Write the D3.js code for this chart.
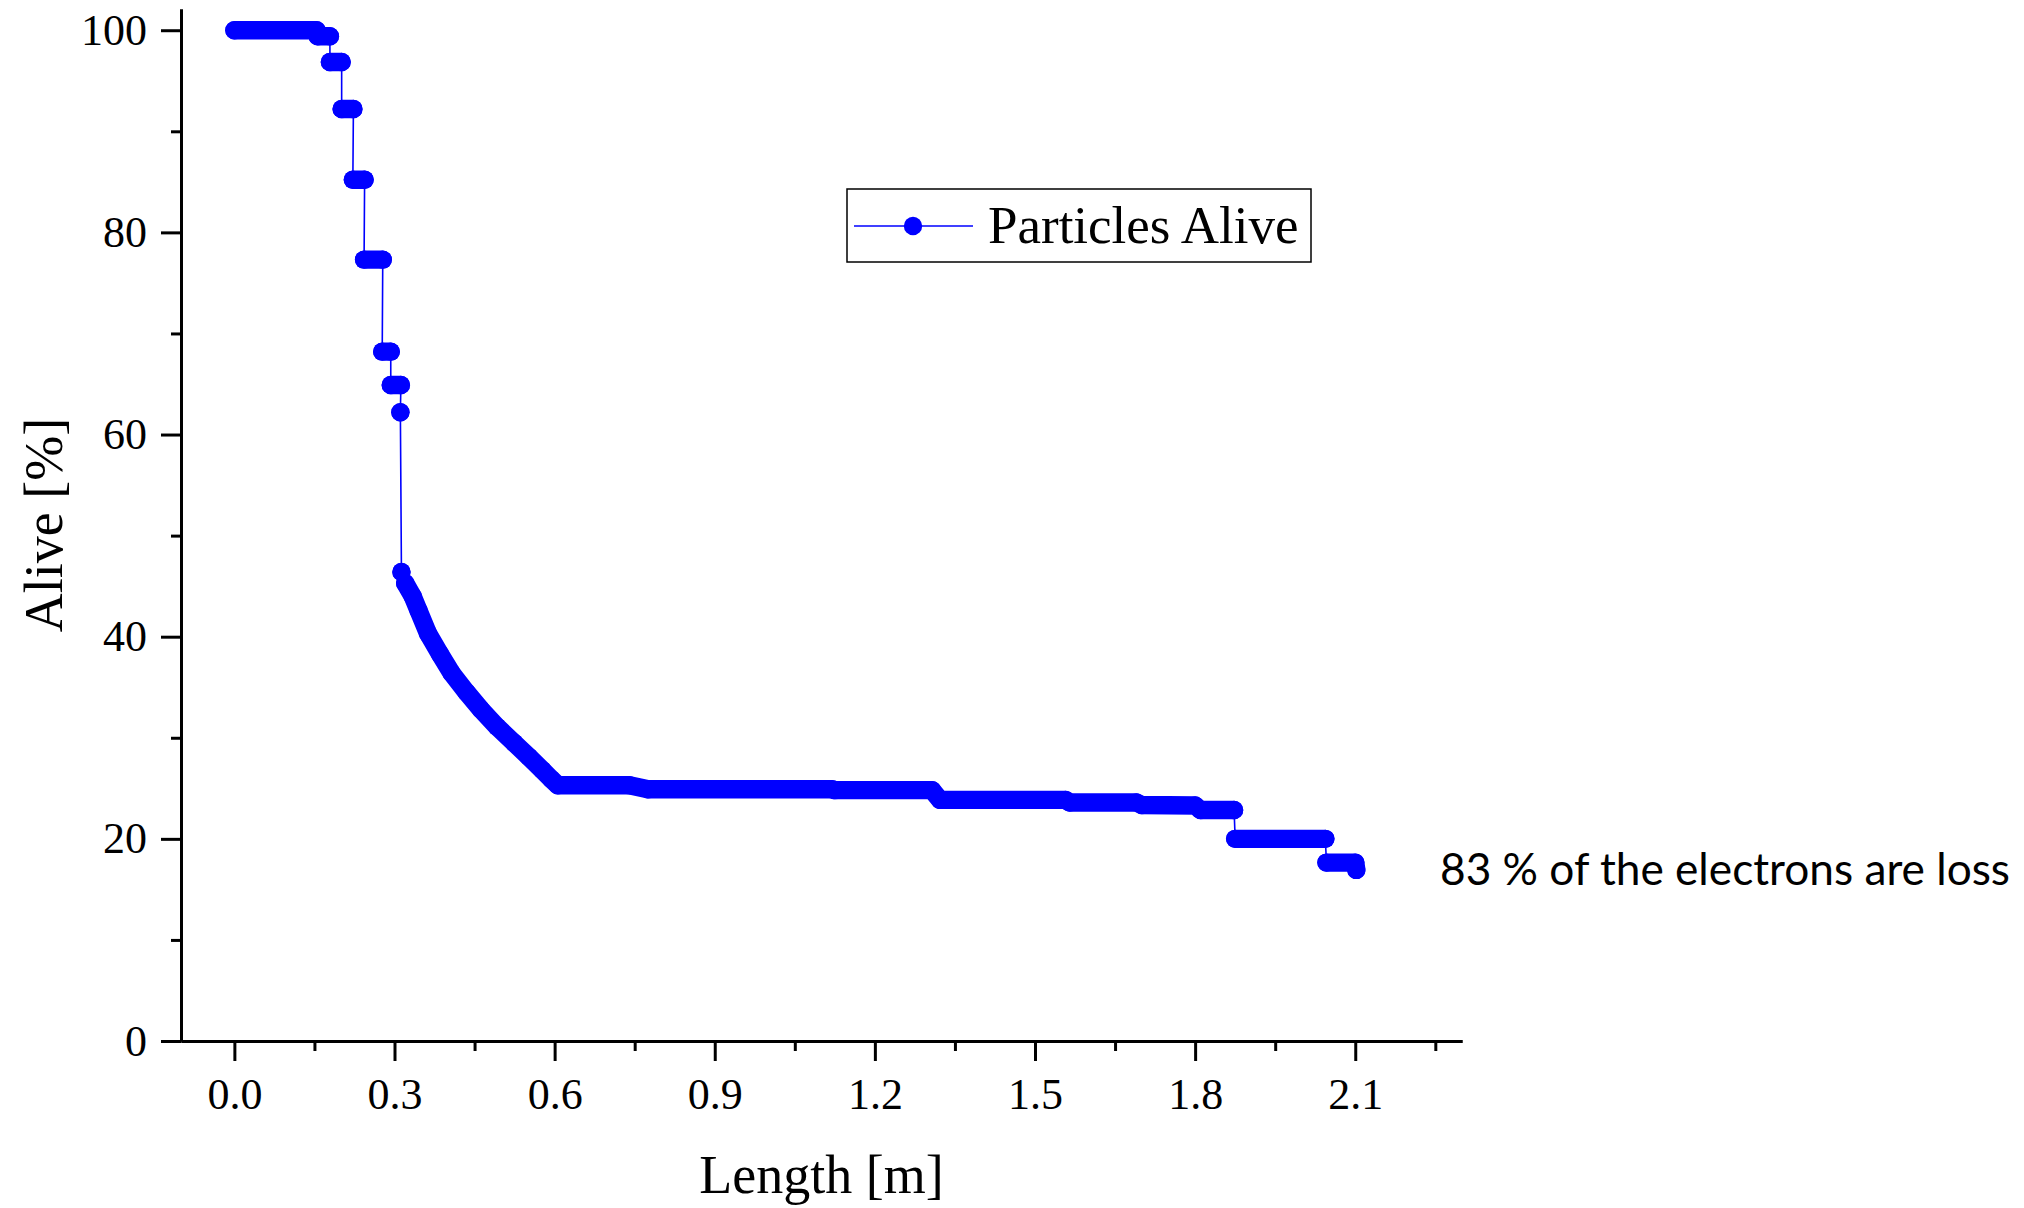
<!DOCTYPE html>
<html>
<head>
<meta charset="utf-8">
<script src="https://cdn.jsdelivr.net/npm/d3@7"></script>
<style>
  body { margin: 0; background: #fff; }
</style>
</head>
<body>
<script>
// chart size and plot box
const SVG_DIM = { W: 2024, H: 1208 };
const PLOT = { LEFT: 181, RIGHT: 1462, TOP: 9, BOTTOM: 1041 };
const MARKER_R = 9.2;
const BLUE = "#0000ff";

// values (length in m, alive in %)
const lengthM = [
  0.000, 0.154, 0.156, 0.179, 0.179, 0.201, 0.201, 0.223, 0.222, 0.244,
  0.243, 0.278, 0.277, 0.293, 0.293, 0.312, 0.311,
  0.313, 0.320, 0.334, 0.345, 0.363, 0.385, 0.407, 0.435, 0.462, 0.492,
  0.524, 0.552, 0.577, 0.594, 0.606,
  0.740, 0.775, 1.120, 1.125, 1.307, 1.322, 1.557, 1.565, 1.690, 1.700,
  1.800, 1.810, 1.873, 1.875, 2.044, 2.046, 2.100, 2.102
];
const alivePct = [
  100.0, 100.0, 99.4, 99.4, 96.85, 96.85, 92.2, 92.2, 85.2, 85.2,
  77.3, 77.3, 68.2, 68.2, 64.9, 64.9, 62.2,
  46.4, 45.3, 44.0, 42.6, 40.3, 38.3, 36.4, 34.5, 32.8, 31.1,
  29.5, 28.1, 26.8, 25.9, 25.3,
  25.3, 24.9, 24.9, 24.82, 24.82, 23.86, 23.86, 23.6, 23.6, 23.35,
  23.3, 22.86, 22.86, 20.0, 20.0, 17.65, 17.65, 16.93
];

const xMajorTicks = [0, 0.3, 0.6, 0.9, 1.2, 1.5, 1.8, 2.1];
const xMinorTicks = [0.15, 0.45, 0.75, 1.05, 1.35, 1.65, 1.95, 2.25];
const yMajorTicks = [0, 20, 40, 60, 80, 100];
const yMinorTicks = [10, 30, 50, 70, 90];

const points = lengthM.map((d, i) => ({ x: d, y: alivePct[i] }));

const svg = d3.select("body")
  .append("svg")
  .attr("width", SVG_DIM.W)
  .attr("height", SVG_DIM.H)
  .style("background", "#fff");

const x = d3.scaleLinear().domain([-0.1, 2.3]).range([PLOT.LEFT, PLOT.RIGHT]);
const y = d3.scaleLinear().domain([0, 102.1]).range([PLOT.BOTTOM, PLOT.TOP]);

// thin connecting line through every point
const line = d3.line().x(d => x(d.x)).y(d => y(d.y));
svg.append("path")
  .datum(points)
  .attr("d", line)
  .attr("fill", "none")
  .attr("stroke", BLUE)
  .attr("stroke-width", 1.6);

// dense markers merge into thick bands; vertical drops stay thin
const bands = [];
let cur = [points[0]];
for (let i = 1; i < points.length; i++) {
  const a = points[i - 1], b = points[i];
  const isDrop = Math.abs(b.x - a.x) < 0.01 && Math.abs(b.y - a.y) > 1;
  if (isDrop) { bands.push(cur); cur = [b]; } else cur.push(b);
}
bands.push(cur);

svg.append("g")
  .selectAll("path")
  .data(bands)
  .enter()
  .append("path")
  .attr("d", line)
  .attr("fill", "none")
  .attr("stroke", BLUE)
  .attr("stroke-width", MARKER_R * 2)
  .attr("stroke-linecap", "round")
  .attr("stroke-linejoin", "round");

svg.append("g")
  .selectAll("circle")
  .data(points)
  .enter()
  .append("circle")
  .attr("cx", d => x(d.x))
  .attr("cy", d => y(d.y))
  .attr("r", MARKER_R)
  .attr("fill", BLUE);

// axes
const styleAxis = (g) => {
  g.selectAll("path, line").attr("stroke", "#000").attr("stroke-width", 3);
  g.selectAll("text")
    .attr("font-family", "'Liberation Serif', 'Times New Roman', serif")
    .attr("font-size", 44)
    .attr("fill", "#000");
};

svg.append("g")
  .attr("transform", `translate(0,${PLOT.BOTTOM})`)
  .call(d3.axisBottom(x).tickValues(xMinorTicks).tickSize(10).tickFormat("").tickSizeOuter(0))
  .call(styleAxis);
svg.append("g")
  .attr("transform", `translate(0,${PLOT.BOTTOM})`)
  .call(d3.axisBottom(x).tickValues(xMajorTicks).tickSize(20).tickPadding(17)
    .tickFormat(d3.format(".1f")).tickSizeOuter(0))
  .call(styleAxis);

svg.append("g")
  .attr("transform", `translate(${PLOT.LEFT},0)`)
  .call(d3.axisLeft(y).tickValues(yMinorTicks).tickSize(10).tickFormat("").tickSizeOuter(0))
  .call(styleAxis);
svg.append("g")
  .attr("transform", `translate(${PLOT.LEFT},0)`)
  .call(d3.axisLeft(y).tickValues(yMajorTicks).tickSize(20).tickPadding(14)
    .tickFormat(d3.format("d")).tickSizeOuter(0))
  .call(styleAxis);

// axis titles
svg.append("text")
  .text("Length [m]")
  .attr("x", (PLOT.LEFT + PLOT.RIGHT) / 2)
  .attr("y", 1193)
  .attr("text-anchor", "middle")
  .attr("font-family", "'Liberation Serif', serif")
  .attr("font-size", 54);

svg.append("text")
  .text("Alive [%]")
  .attr("transform", `translate(62,${(PLOT.TOP + PLOT.BOTTOM) / 2}) rotate(-90)`)
  .attr("text-anchor", "middle")
  .attr("font-family", "'Liberation Serif', serif")
  .attr("font-size", 54);

// legend
const legend = svg.append("g").attr("id", "legend");
legend.append("rect")
  .attr("x", 847).attr("y", 189)
  .attr("width", 464).attr("height", 73)
  .attr("fill", "#fff")
  .attr("stroke", "#000")
  .attr("stroke-width", 1.5);
legend.append("line")
  .attr("x1", 854).attr("x2", 973)
  .attr("y1", 226).attr("y2", 226)
  .attr("stroke", BLUE)
  .attr("stroke-width", 1.6);
legend.append("circle")
  .attr("cx", 913).attr("cy", 226)
  .attr("r", MARKER_R)
  .attr("fill", BLUE);
legend.append("text")
  .text("Particles Alive")
  .attr("x", 988).attr("y", 243)
  .attr("font-family", "'Liberation Serif', serif")
  .attr("font-size", 53);

// annotation
svg.append("text")
  .text("83 % of the electrons are loss")
  .attr("x", 1440).attr("y", 885)
  .attr("font-family", "Lato, 'Open Sans', sans-serif")
  .attr("font-size", 45)
  .attr("textLength", 570)
  .attr("lengthAdjust", "spacingAndGlyphs");
</script>
</body>
</html>
